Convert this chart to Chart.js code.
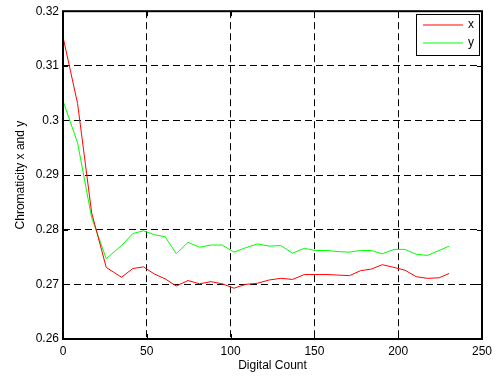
<!DOCTYPE html>
<html>
<head>
<meta charset="utf-8">
<title>Chromaticity x and y</title>
<script src="https://cdn.jsdelivr.net/npm/chart.js@4.4.1/dist/chart.umd.min.js"></script>
<style>
    html, body { margin: 0; padding: 0; background: #fff; }
    #chart { display: block; }
</style>
</head>
<body>
<canvas id="chart" width="497" height="378"></canvas>
<script>
/* ── Data ── */
const digitalCount = [0, 8.7, 17.1, 25.8, 34.9, 41.7, 48, 54.5, 61, 67.6, 74.6, 81.5, 88.3, 95, 102, 109,
    116, 123, 130, 137, 144, 150.5, 157.5, 164, 171, 177.5, 184, 190.5, 197.5, 204, 210.8, 217.5, 224.4, 230.4];
const chromX = [0.3153, 0.3031, 0.2831, 0.2731, 0.2713, 0.2729, 0.2732, 0.2719, 0.2710, 0.2697, 0.2707, 0.2701,
    0.2705, 0.2701, 0.2693, 0.2700, 0.2702, 0.2708, 0.2711, 0.2709, 0.2718, 0.2718, 0.2718, 0.2717, 0.2716,
    0.2725, 0.2728, 0.2736, 0.2731, 0.2726, 0.2714, 0.2711, 0.2712, 0.2720];
const chromY = [0.3036, 0.2959, 0.2822, 0.2747, 0.2771, 0.2793, 0.2798, 0.2791, 0.2787, 0.2756, 0.2777, 0.2768,
    0.2772, 0.2772, 0.2759, 0.2767, 0.2774, 0.2770, 0.2771, 0.2757, 0.2766, 0.2762, 0.2762, 0.2760, 0.2759,
    0.2762, 0.2762, 0.2756, 0.2764, 0.2764, 0.2755, 0.2753, 0.2762, 0.2770];
const seriesNames = ['x', 'y'];
const xTicks = [0, 50, 100, 150, 200, 250];
const yTicks = [0.26, 0.27, 0.28, 0.29, 0.30, 0.31, 0.32];

const FONT = "'Liberation Sans', Arial, Helvetica, sans-serif";

/* ── Frame, inward ticks and boxed legend (MATLAB look) ── */
const matlabFrame = {
    id: 'matlabFrame',
    afterDraw(chart) {
        const { ctx, chartArea: a, scales } = chart;
        const L = a.left, R = a.right, T = a.top, B = a.bottom;
        const tl = 5;
        ctx.save();
        ctx.strokeStyle = '#000';
        ctx.setLineDash([]);
        ctx.lineWidth = 2;
        ctx.strokeRect(L, T, R - L, B - T);

        ctx.lineWidth = 1;
        ctx.beginPath();
        xTicks.forEach(v => {
            const px = Math.round(scales.x.getPixelForValue(v)) + 0.5;
            ctx.moveTo(px, B); ctx.lineTo(px, B - tl);
            ctx.moveTo(px, T); ctx.lineTo(px, T + tl);
        });
        yTicks.forEach(v => {
            const py = Math.round(scales.y.getPixelForValue(v)) + 0.5;
            ctx.moveTo(L, py); ctx.lineTo(L + tl, py);
            ctx.moveTo(R, py); ctx.lineTo(R - tl, py);
        });
        ctx.stroke();

        // legend box
        const bx = 416.5, by = 14.5, bw = 63, bh = 41;
        ctx.fillStyle = '#fff';
        ctx.fillRect(bx, by, bw, bh);
        ctx.strokeRect(bx, by, bw, bh);
        ctx.font = '12px ' + FONT;
        ctx.textBaseline = 'middle';
        chart.data.datasets.forEach((ds, i) => {
            const y = by + 10.5 + i * 18;
            ctx.strokeStyle = ds.borderColor;
            ctx.beginPath();
            ctx.moveTo(423, y); ctx.lineTo(463, y);
            ctx.stroke();
            ctx.fillStyle = '#000';
            ctx.fillText(ds.label, 468, y);
        });
        ctx.restore();
    }
};

const toPoints = vals => vals.map((v, i) => ({ x: digitalCount[i], y: v }));

new Chart(document.getElementById('chart'), {
    type: 'scatter',
    data: {
        datasets: [
            { label: seriesNames[0], data: toPoints(chromX), borderColor: '#ff0000', backgroundColor: '#ff0000' },
            { label: seriesNames[1], data: toPoints(chromY), borderColor: '#00ff00', backgroundColor: '#00ff00' }
        ]
    },
    options: {
        responsive: false,
        animation: false,
        showLine: true,
        elements: {
            point: { radius: 0, hoverRadius: 0 },
            line: { borderWidth: 1, tension: 0, fill: false }
        },
        layout: { padding: { top: 8, right: 13, left: 0, bottom: 0 } },
        plugins: { legend: { display: false }, tooltip: { enabled: false } },
        scales: {
            x: {
                type: 'linear', min: 0, max: 250,
                afterFit: s => { s.height = 39; },
                afterBuildTicks: s => { s.ticks = xTicks.map(v => ({ value: v })); },
                grid: { color: '#000', lineWidth: 1, drawTicks: false },
                border: { display: false, dash: [7, 4] },
                ticks: { color: '#000', padding: 5, font: { family: FONT, size: 12 }, maxRotation: 0 },
                title: { display: true, text: 'Digital Count', color: '#000', padding: { top: 0, bottom: 5 }, font: { family: FONT, size: 12 } }
            },
            y: {
                type: 'linear', min: 0.26, max: 0.32,
                afterFit: s => { s.width = 63; },
                afterBuildTicks: s => { s.ticks = yTicks.map(v => ({ value: v })); },
                grid: { color: '#000', lineWidth: 1, drawTicks: false },
                border: { display: false, dash: [7, 4] },
                ticks: { color: '#000', padding: 4, font: { family: FONT, size: 12 }, callback: v => String(+v.toFixed(2)) },
                title: { display: true, text: 'Chromaticity x and y', color: '#000', padding: { top: 13, bottom: 0 }, font: { family: FONT, size: 12 } }
            }
        }
    },
    plugins: [matlabFrame]
});
</script>
</body>
</html>
